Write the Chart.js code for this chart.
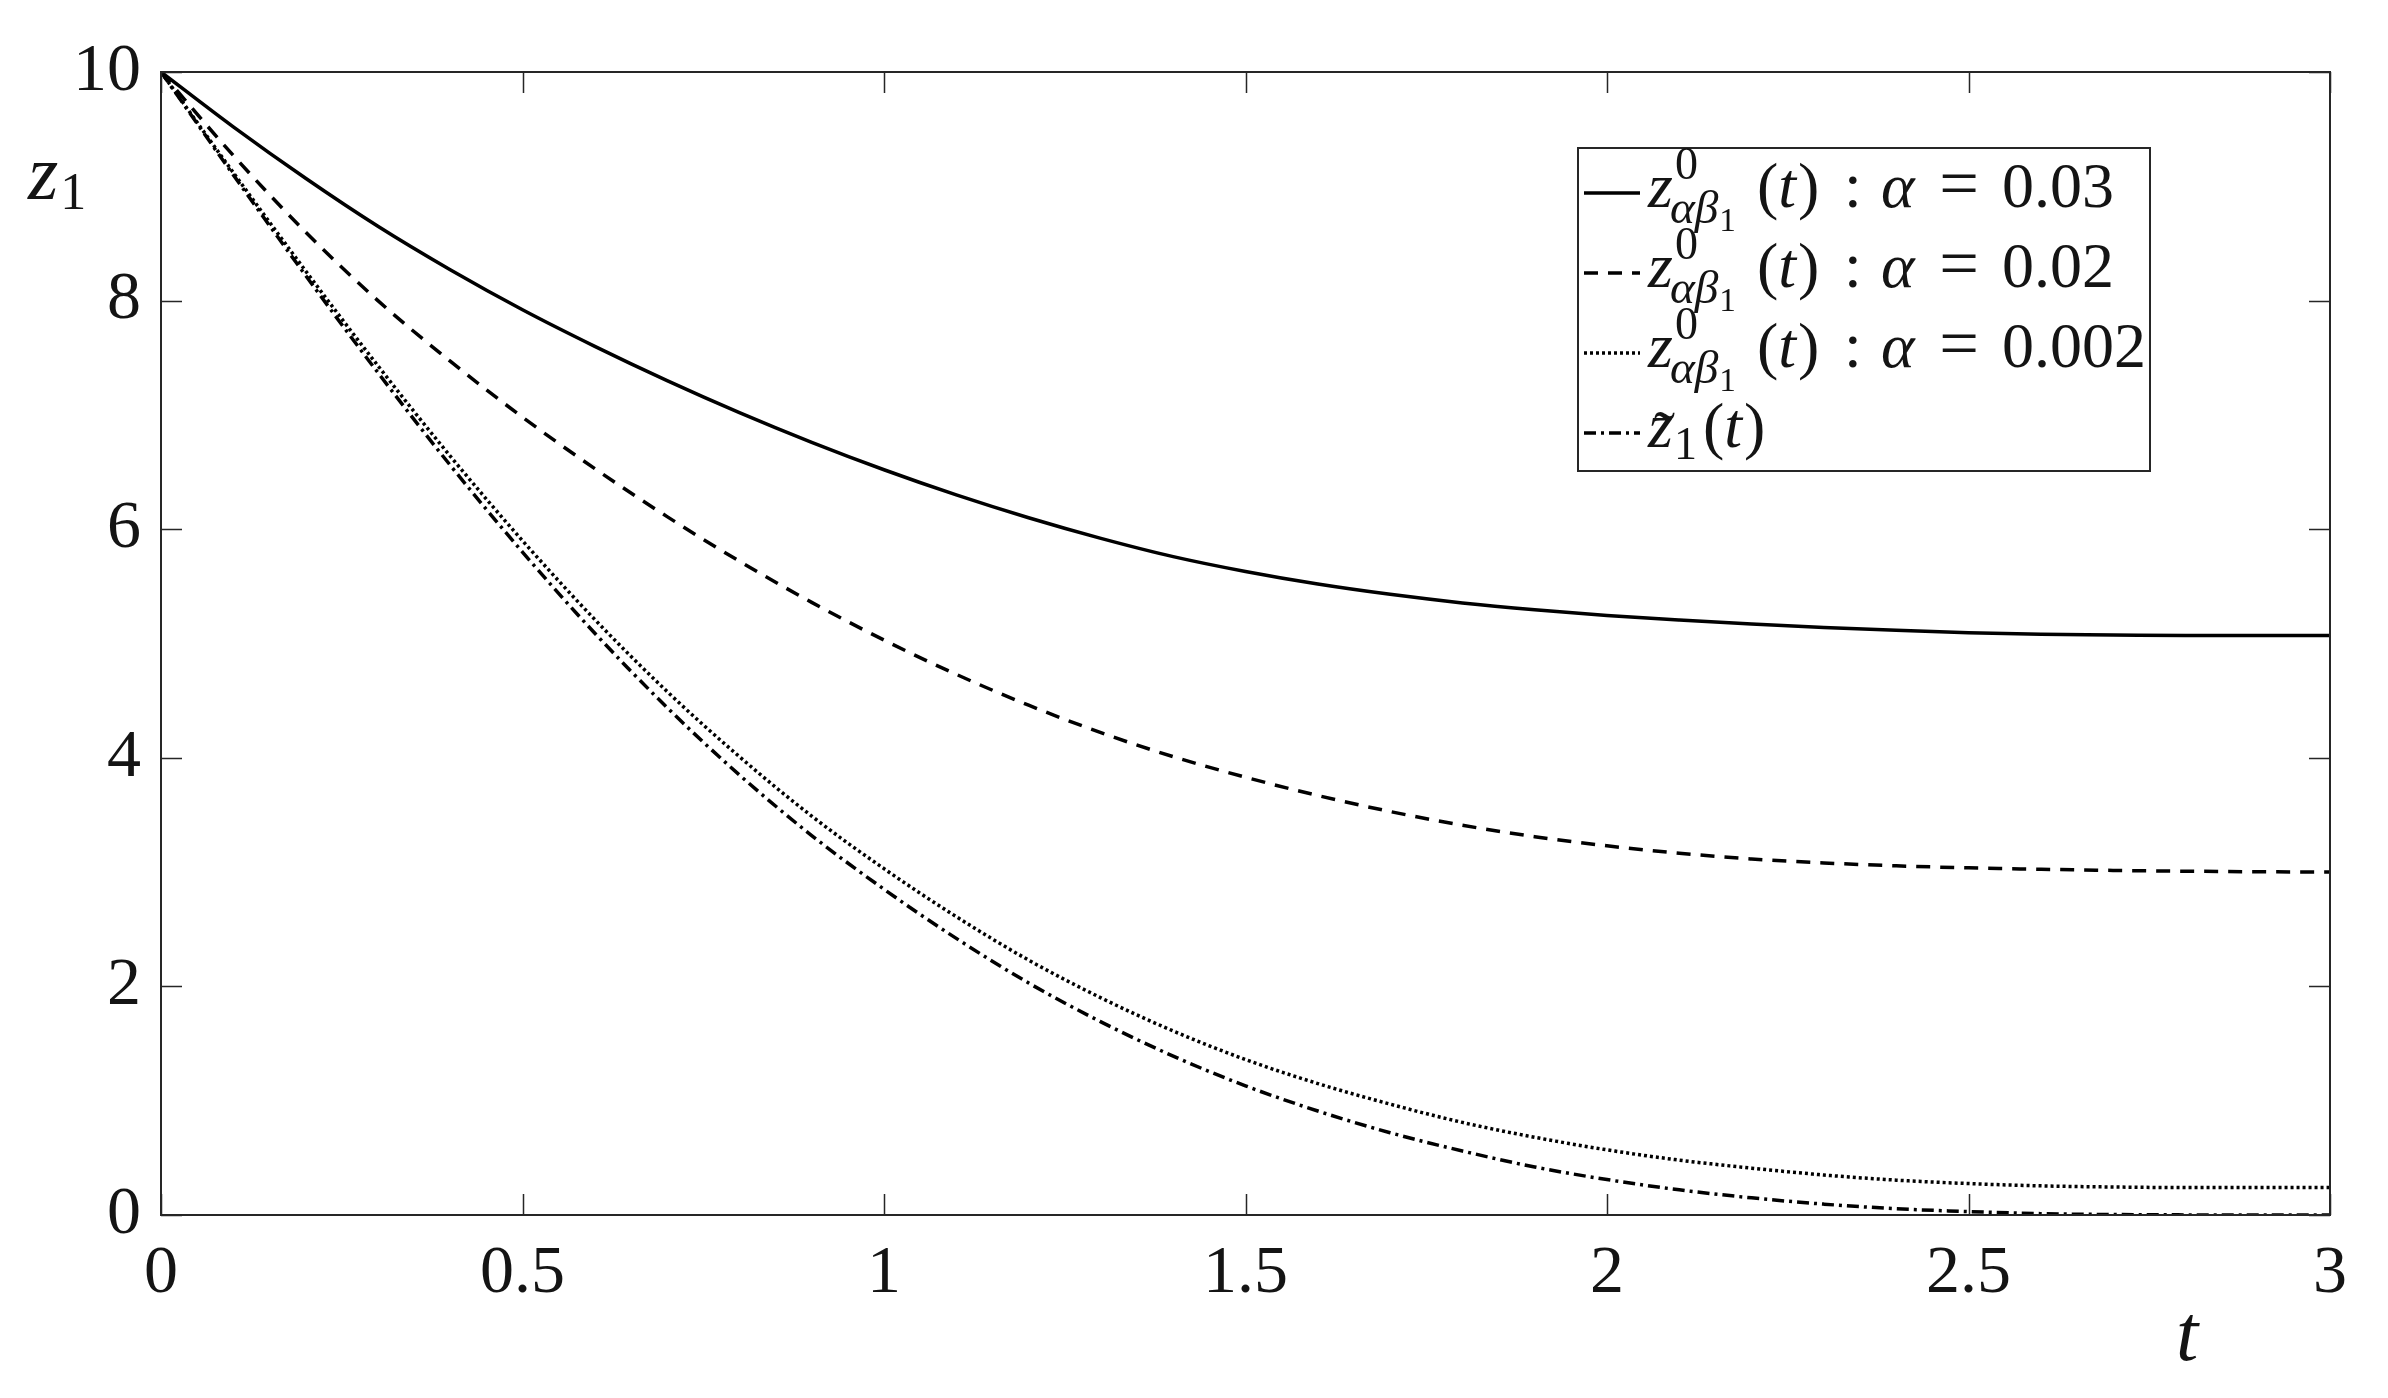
<!DOCTYPE html>
<html>
<head>
<meta charset="utf-8">
<script src="https://cdn.jsdelivr.net/npm/chart.js@4.4.1/dist/chart.umd.min.js"></script>
<style>
  html, body { margin: 0; padding: 0; background: #ffffff; }
  #wrap { width: 2388px; height: 1398px; }
</style>
</head>
<body>
<div id="wrap"><canvas id="c" width="2388" height="1398"></canvas></div>
<script>
// ---- data ----
const tValues = [0, 0.1, 0.2, 0.3, 0.4, 0.5, 0.6, 0.7, 0.8, 0.9, 1.0, 1.1, 1.2, 1.3, 1.4, 1.5,
                 1.6, 1.7, 1.8, 1.9, 2.0, 2.1, 2.2, 2.3, 2.4, 2.5, 2.6, 2.7, 2.8, 2.9, 3.0];
const zAlpha003 = [10.00, 9.52, 9.07, 8.65, 8.27, 7.92, 7.60, 7.30, 7.02, 6.76, 6.52, 6.30, 6.10, 5.92, 5.76, 5.63,
                   5.52, 5.43, 5.355, 5.295, 5.245, 5.205, 5.17, 5.14, 5.115, 5.095, 5.08, 5.075, 5.07, 5.07, 5.07];
const zAlpha002 = [10.00, 9.27, 8.60, 8.00, 7.47, 6.98, 6.53, 6.11, 5.72, 5.36, 5.03, 4.73, 4.46, 4.22, 4.01, 3.83,
                   3.67, 3.53, 3.41, 3.31, 3.23, 3.165, 3.115, 3.08, 3.055, 3.037, 3.025, 3.015, 3.008, 3.003, 3.00];
const zAlpha0002 = [10.00, 9.12, 8.26, 7.43, 6.64, 5.90, 5.21, 4.58, 4.01, 3.49, 3.03, 2.61, 2.23, 1.90, 1.61, 1.36,
                    1.15, 0.97, 0.81, 0.68, 0.57, 0.48, 0.41, 0.35, 0.305, 0.275, 0.255, 0.245, 0.24, 0.24, 0.24];
const zTilde = [10.00, 9.10, 8.22, 7.37, 6.56, 5.80, 5.09, 4.44, 3.85, 3.32, 2.85, 2.42, 2.03, 1.69, 1.39, 1.13,
                0.91, 0.72, 0.56, 0.42, 0.31, 0.22, 0.15, 0.095, 0.055, 0.03, 0.012, 0.004, 0.001, 0.00, 0.00];
const alphaLabels = ['0.03', '0.02', '0.002'];
const xTicks = [0, 0.5, 1, 1.5, 2, 2.5, 3];
const yTicks = [0, 2, 4, 6, 8, 10];

// ---- styles ----
const INK = '#141414';
const AXIS = '#262626';
const SERIF = '"Liberation Serif", "Times New Roman", Times, serif';
const styles = [
  { width: 3.5, dash: [] },
  { width: 3.5, dash: [14, 10] },
  { width: 3.5, dash: [3, 3] },
  { width: 3.5, dash: [12, 5, 3, 5] }
];

function pts(arr) { return tValues.map((t, i) => ({ x: t, y: arr[i] })); }

const series = [zAlpha003, zAlpha002, zAlpha0002, zTilde];
const datasets = series.map((arr, i) => ({
  data: pts(arr),
  borderColor: '#000000',
  borderWidth: styles[i].width,
  borderDash: styles[i].dash,
  pointRadius: 0,
  fill: false,
  cubicInterpolationMode: 'monotone'
}));

function drawText(ctx, txt, x, y, size, italic, align) {
  ctx.font = (italic ? 'italic ' : '') + size + 'px ' + SERIF;
  ctx.textAlign = align || 'left';
  ctx.fillText(txt, x, y);
  return ctx.measureText(txt).width;
}

const framePlugin = {
  id: 'framePlugin',
  afterDatasetsDraw(chart) {
    const { ctx, chartArea: a, scales: { x, y } } = chart;
    ctx.save();
    // box
    ctx.strokeStyle = AXIS;
    ctx.lineWidth = 2;
    ctx.strokeRect(a.left, a.top, a.right - a.left, a.bottom - a.top);
    // inward ticks on all four sides
    ctx.lineWidth = 1.5;
    ctx.beginPath();
    xTicks.forEach(v => {
      const px = Math.round(x.getPixelForValue(v)) + 0.5;
      ctx.moveTo(px, a.bottom); ctx.lineTo(px, a.bottom - 21);
      ctx.moveTo(px, a.top); ctx.lineTo(px, a.top + 21);
    });
    yTicks.forEach(v => {
      const py = Math.round(y.getPixelForValue(v)) + 0.5;
      ctx.moveTo(a.left, py); ctx.lineTo(a.left + 21, py);
      ctx.moveTo(a.right, py); ctx.lineTo(a.right - 21, py);
    });
    ctx.stroke();

    // axis titles
    ctx.fillStyle = INK;
    ctx.textBaseline = 'alphabetic';
    const wz = drawText(ctx, 'z', 28, 199, 78, true);
    drawText(ctx, '1', 28 + wz + 2, 209, 52, false);
    drawText(ctx, 't', 2176, 1360, 80, true);

    // legend
    const L = { x0: 1578, y0: 148, x1: 2150, y1: 471 };
    ctx.fillStyle = '#ffffff';
    ctx.fillRect(L.x0, L.y0, L.x1 - L.x0, L.y1 - L.y0);
    ctx.strokeStyle = AXIS;
    ctx.lineWidth = 2;
    ctx.strokeRect(L.x0, L.y0, L.x1 - L.x0, L.y1 - L.y0);

    const S = 64;
    const baselines = [207, 287, 367, 447];
    const tx = 1648;
    for (let r = 0; r < 4; r++) {
      const b = baselines[r];
      // line sample
      ctx.strokeStyle = '#000000';
      ctx.lineWidth = styles[r].width;
      ctx.setLineDash(styles[r].dash);
      ctx.beginPath();
      ctx.moveTo(1584, b - 14); ctx.lineTo(1640, b - 14);
      ctx.stroke();
      ctx.setLineDash([]);
      ctx.fillStyle = INK;
      if (r < 3) {
        const w = drawText(ctx, 'z', tx, b, S, true);
        drawText(ctx, '0', tx + w + 2, b - 0.43 * S, 0.72 * S, false);
        const ws = drawText(ctx, 'αβ', tx + w - 3, b + 0.25 * S, 0.74 * S, true);
        drawText(ctx, '1', tx + w - 3 + ws + 1, b + 0.38 * S, 0.52 * S, false);
        let px = 1757;
        px += drawText(ctx, '(', px, b, S, false);
        px += drawText(ctx, 't', px, b, S, true);
        drawText(ctx, ')', px + 2, b, S, false);
        drawText(ctx, ':', 1853, b, S, false, 'center');
        drawText(ctx, 'α', 1881, b, S, true);
        drawText(ctx, '=', 1959, b, S * 1.1, false, 'center');
        drawText(ctx, alphaLabels[r], 2002, b, S, false);
      } else {
        const w = drawText(ctx, 'z', tx, b, S, true);
        drawText(ctx, '˜', tx + w / 2 + 4, b + 0.12 * S, S, false, 'center');
        const w1 = drawText(ctx, '1', tx + w + 1, b + 0.18 * S, 0.72 * S, false);
        let px = tx + w + 1 + w1 + 6;
        px += drawText(ctx, '(', px, b, S, false);
        px += drawText(ctx, 't', px, b, S, true);
        drawText(ctx, ')', px + 2, b, S, false);
      }
    }
    ctx.restore();
  }
};

new Chart(document.getElementById('c'), {
  type: 'line',
  data: { datasets },
  options: {
    responsive: false,
    animation: false,
    events: [],
    layout: { padding: { top: 72, right: 58, left: 0, bottom: 0 } },
    plugins: { legend: { display: false }, tooltip: { enabled: false }, title: { display: false } },
    scales: {
      x: {
        type: 'linear', min: 0, max: 3,
        afterFit: s => { s.height = 183; },
        afterBuildTicks: s => { s.ticks = xTicks.map(v => ({ value: v })); },
        grid: { display: false, drawTicks: false },
        border: { display: false },
        ticks: { color: INK, font: { family: SERIF, size: 68 }, padding: 18, maxRotation: 0,
                 callback: v => String(v) }
      },
      y: {
        type: 'linear', min: 0, max: 10,
        afterFit: s => { s.width = 161; },
        afterBuildTicks: s => { s.ticks = yTicks.map(v => ({ value: v })); },
        grid: { display: false, drawTicks: false },
        border: { display: false },
        ticks: { color: INK, font: { family: SERIF, size: 68 }, padding: 20,
                 callback: v => String(v) }
      }
    }
  },
  plugins: [framePlugin]
});
</script>
</body>
</html>
